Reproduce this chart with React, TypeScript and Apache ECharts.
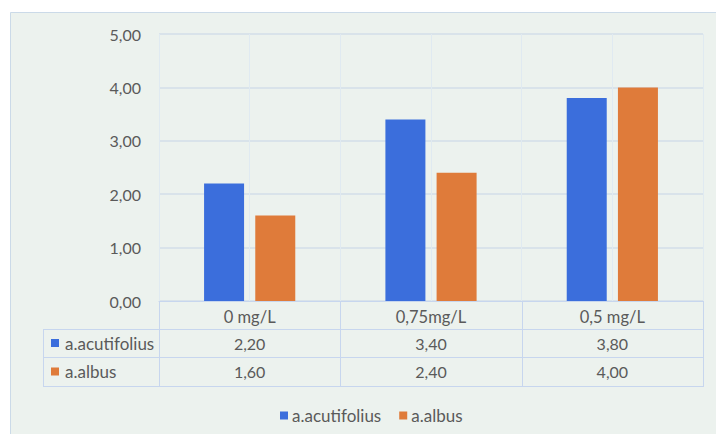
import React, { useEffect, useRef } from "react";
import * as echarts from "echarts";

// Doses tested and the measured values for each species
const categories = ["0 mg/L", "0,75mg/L", "0,5 mg/L"];
const seriesNames = ["a.acutifolius", "a.albus"];
const acutifolius = [2.2, 3.4, 3.8];
const albus = [1.6, 2.4, 4.0];
const yTicks = [0, 1, 2, 3, 4, 5];

const COLORS = ["#3B6EDC", "#DF7B3A"];
const TEXT = "#5A5A5A";
const FONT = "Lato, 'Noto Sans', sans-serif";
const FS_NUM = 16;
const FS_WORD = 17;
const FS_HEAD = 16.5;

const W = 716;
const H = 434;
const PLOT_L = 159;
const PLOT_R = 703;
const PLOT_T = 34;
const PLOT_B = 301;
const ROW_H = [28, 28, 29];
const LABEL_L = 43;
const BORDER = "#C7D6EE";

const fmt = (v: number) => v.toFixed(2).replace(".", ",");

function buildTable() {
  const els: any[] = [];
  const colW = (PLOT_R - PLOT_L) / categories.length;
  const rowTop = [PLOT_B, PLOT_B + ROW_H[0], PLOT_B + ROW_H[0] + ROW_H[1]];
  const bottom = rowTop[2] + ROW_H[2];
  const line = (x1: number, y1: number, x2: number, y2: number) => ({
    type: "line",
    shape: { x1, y1, x2, y2 },
    style: { stroke: BORDER, lineWidth: 1 },
    silent: true,
  });
  // column separators
  for (let i = 0; i <= categories.length; i++) {
    const x = Math.round(PLOT_L + i * colW) + 0.5;
    els.push(line(x, PLOT_B, x, bottom));
  }
  els.push(line(LABEL_L + 0.5, rowTop[1], LABEL_L + 0.5, bottom));
  // row separators
  [rowTop[1], rowTop[2], bottom].forEach((y) =>
    els.push(line(LABEL_L, y + 0.5, PLOT_R + 1, y + 0.5))
  );
  const rows = [acutifolius, albus];
  rows.forEach((vals, r) => {
    const cy = rowTop[r + 1] + ROW_H[r + 1] / 2;
    els.push({
      type: "rect",
      shape: { x: 51, y: cy - 4, width: 8, height: 8 },
      style: { fill: COLORS[r] },
      silent: true,
    });
    els.push({
      type: "text",
      x: 65,
      y: cy,
      style: {
        text: seriesNames[r],
        fill: TEXT,
        font: `${FS_WORD}px ${FONT}`,
        verticalAlign: "middle",
        align: "left",
      },
      silent: true,
    });
    vals.forEach((v, c) => {
      els.push({
        type: "text",
        x: PLOT_L + (c + 0.5) * colW,
        y: cy,
        style: {
          text: fmt(v),
          fill: TEXT,
          font: `${FS_NUM}px ${FONT}`,
          verticalAlign: "middle",
          align: "center",
        },
        silent: true,
      });
    });
  });
  return els;
}

export default function App() {
  const ref = useRef<HTMLDivElement>(null);

  useEffect(() => {
    if (!ref.current) return;
    const chart = echarts.init(ref.current, undefined, { renderer: "svg" });
    const data = [acutifolius, albus];
    chart.setOption({
      animation: false,
      backgroundColor: "#FFFFFF",
      textStyle: { fontFamily: FONT, color: TEXT },
      grid: {
        left: PLOT_L,
        right: W - PLOT_R,
        top: PLOT_T,
        bottom: H - PLOT_B,
      },
      legend: {
        data: seriesNames,
        left: 275,
        top: 402,
        icon: "rect",
        itemWidth: 8,
        itemHeight: 8,
        itemGap: 18,
        textStyle: {
          color: TEXT,
          fontSize: FS_WORD,
          fontFamily: FONT,
          padding: [0, 0, 0, -1],
        },
      },
      xAxis: [
        {
          type: "category",
          data: categories,
          axisLine: { show: true, lineStyle: { color: BORDER } },
          axisTick: { show: false },
          splitLine: { show: false },
          axisLabel: {
            color: TEXT,
            fontSize: FS_HEAD,
            fontFamily: FONT,
            margin: 7,
          },
        },
        {
          // faint vertical guides at each column edge and centre
          type: "value",
          min: 0,
          max: categories.length * 2,
          interval: 1,
          show: true,
          position: "bottom",
          axisLine: { show: false },
          axisTick: { show: false },
          axisLabel: { show: false },
          splitLine: { show: true, lineStyle: { color: "#E0EAF1", width: 1 } },
        },
      ],
      yAxis: {
        type: "value",
        min: yTicks[0],
        max: yTicks[yTicks.length - 1],
        interval: 1,
        axisLine: { show: false },
        axisTick: { show: false },
        axisLabel: {
          color: TEXT,
          fontSize: FS_NUM,
          fontFamily: FONT,
          margin: 18,
          formatter: (v: number) => fmt(v),
        },
        splitLine: { lineStyle: { color: "#D3DEE9", width: 1.5 } },
      },
      graphic: [
        {
          type: "rect",
          z: -10,
          silent: true,
          shape: { x: 10.5, y: 12.5, width: W, height: H },
          style: { fill: "#ECF2EE", stroke: "#CBDAE8", lineWidth: 1 },
        },
        ...buildTable(),
      ],
      series: seriesNames.map((name, i) => ({
        name,
        type: "bar",
        xAxisIndex: 0,
        data: data[i],
        barWidth: 40,
        barGap: "28%",
        itemStyle: { color: COLORS[i] },
        z: 5,
      })),
    });
    return () => chart.dispose();
  }, []);

  return (
    <div
      ref={ref}
      style={{ position: "fixed", left: 0, top: 0, width: W, height: H }}
    />
  );
}
